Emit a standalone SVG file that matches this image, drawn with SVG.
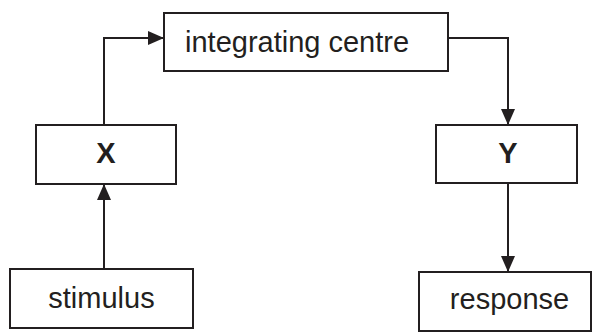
<svg xmlns="http://www.w3.org/2000/svg" width="593" height="332" viewBox="0 0 593 332">
<defs>
<style>
.box{fill:#fff;stroke:#231f20;stroke-width:2}
.lbl{font-family:"Liberation Sans",Arial,sans-serif;font-size:29px;fill:#231f20}
.bold{font-weight:bold;text-anchor:middle}
.con{fill:none;stroke:#231f20;stroke-width:2}
</style>
<marker id="ah" viewBox="0 0 16 14" refX="16" refY="7" markerWidth="16" markerHeight="14" markerUnits="userSpaceOnUse" orient="auto">
<path d="M0,0 L16,7 L0,14 Z" fill="#231f20"/>
</marker>
</defs>
<g id="connectors">
<path class="con" d="M104,125 V38 H164" marker-end="url(#ah)"/>
<path class="con" d="M448,38 H508 V125" marker-end="url(#ah)"/>
<path class="con" d="M104,269 V184" marker-end="url(#ah)"/>
<path class="con" d="M508,184 V272" marker-end="url(#ah)"/>
</g>
<g id="integrating-centre">
<rect class="box" x="164" y="13" width="284" height="58"/>
<text class="lbl" x="185" y="52">integrating centre</text>
</g>
<g id="X">
<rect class="box" x="36" y="125" width="140" height="59"/>
<text class="lbl bold" x="106" y="163">X</text>
</g>
<g id="Y">
<rect class="box" x="436" y="125" width="141" height="58"/>
<text class="lbl bold" x="508" y="163">Y</text>
</g>
<g id="stimulus">
<rect class="box" x="10" y="269" width="183" height="59"/>
<text class="lbl" x="101.5" y="308" text-anchor="middle">stimulus</text>
</g>
<g id="response">
<rect class="box" x="419" y="272" width="172" height="59"/>
<text class="lbl" x="509.5" y="309" text-anchor="middle">response</text>
</g>
</svg>
